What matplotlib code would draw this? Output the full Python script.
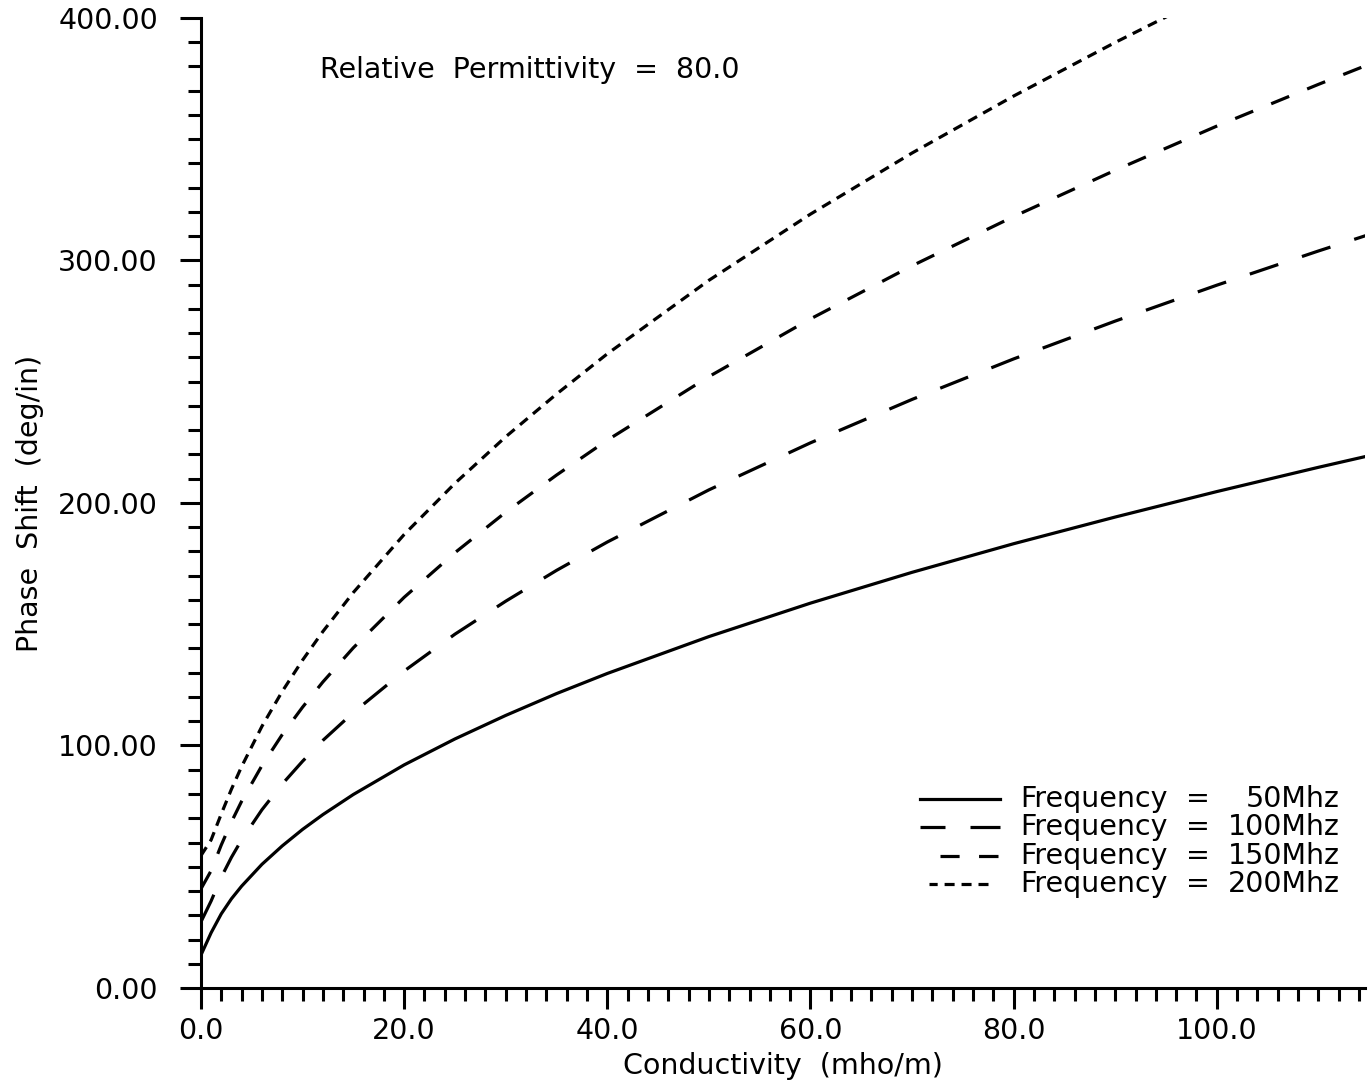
import numpy as np
import matplotlib
matplotlib.use("Agg")
import matplotlib.pyplot as plt
from matplotlib.lines import Line2D

# values (conductivity in mho/m, phase shift in deg/in)
conductivity = [0, 1, 2, 3, 4, 6, 8, 10, 12, 15, 20, 25, 30, 35, 40, 50, 60, 70, 80, 90, 100, 110, 115]
phase_50 = [13.6, 22.8, 30.6, 36.8, 42.0, 51.0, 58.6, 65.4, 71.5, 79.8, 92.0, 102.7, 112.4, 121.4,
            129.7, 144.9, 158.7, 171.4, 183.2, 194.2, 204.7, 214.7, 219.5]
phase_100 = [27.3, 35.9, 45.7, 53.9, 61.1, 73.5, 84.1, 93.5, 102.1, 113.6, 130.7, 145.9, 159.5, 172.2,
             183.9, 205.4, 224.8, 242.7, 259.4, 275.0, 289.8, 303.9, 310.7]
phase_150 = [40.9, 48.4, 59.0, 68.5, 77.0, 91.7, 104.5, 115.8, 126.2, 140.3, 161.1, 179.5, 196.2, 211.5,
             225.9, 252.1, 275.9, 297.8, 318.1, 337.2, 355.4, 372.6, 380.9]
conductivity_200 = [0, 1, 2, 3, 4, 6, 8, 10, 12, 15, 20, 25, 30, 35, 40, 50, 60, 70, 80, 90, 100]
phase_200 = [54.6, 61.1, 71.8, 82.0, 91.3, 107.9, 122.3, 135.2, 147.0, 163.1, 187.0, 208.1, 227.3, 244.9,
             261.5, 291.8, 319.1, 344.3, 367.8, 389.9, 410.9]

freq_labels = ["50Mhz", "100Mhz", "150Mhz", "200Mhz"]

plt.rcParams["font.family"] = "DejaVu Sans"
plt.rcParams["lines.scale_dashes"] = False

fig = plt.figure(figsize=(13.7, 10.88), dpi=100)
ax = fig.add_axes([0.1467, 0.0919, 0.9964 - 0.1467, 0.9835 - 0.0919])

lw = 2.3
fs = 20.5
styles = ["-", (0, (21.6, 18)), (0, (14, 14)), (0, (7.2, 5))]
series = [(conductivity, phase_50), (conductivity, phase_100),
          (conductivity, phase_150), (conductivity_200, phase_200)]

for (xs, ys), ls in zip(series, styles):
    ax.plot(xs, ys, color="black", linewidth=lw, linestyle=ls)

ax.set_xlim(0, 114.6)
ax.set_ylim(0, 400)

for side in ["top", "right"]:
    ax.spines[side].set_visible(False)
for side in ["left", "bottom"]:
    ax.spines[side].set_linewidth(2.2)

ax.set_xticks(np.arange(0, 101, 20))
ax.set_xticks(np.arange(0, 115, 2), minor=True)
ax.set_yticks(np.arange(0, 401, 100))
ax.set_yticks(np.arange(0, 401, 10), minor=True)
ax.xaxis.set_major_formatter(matplotlib.ticker.FormatStrFormatter("%.1f"))
ax.yaxis.set_major_formatter(matplotlib.ticker.FormatStrFormatter("%.2f"))

ax.tick_params(which="major", direction="out", length=15, width=2.2, labelsize=fs)
ax.tick_params(which="minor", direction="out", length=9.4, width=2.2)
ax.tick_params(axis="x", which="major", pad=6)
ax.tick_params(axis="y", which="major", pad=16)

ax.set_xlabel("Conductivity  (mho/m)", fontsize=fs, labelpad=5)
ax.set_ylabel("Phase  Shift  (deg/in)", fontsize=fs, labelpad=10)

ax.text(0.102, 0.946, "Relative  Permittivity  =  80.0", transform=ax.transAxes,
        fontsize=fs, ha="left", va="center")

# hand-built legend, dashes anchored at the right end of each sample
row_y = [0.1948, 0.166, 0.136, 0.107]
line_x = [(0.6864, 0.6177), (0.6864, 0.6177), (0.6847, 0.6349), (0.6761, 0.6254)]
for ls, label, y, (x1, x0) in zip(styles, freq_labels, row_y, line_x):
    ax.add_line(Line2D([x1, x0], [y, y], transform=ax.transAxes,
                       color="black", linewidth=lw, linestyle=ls, clip_on=False))
    ax.text(0.7036, y, "Frequency", transform=ax.transAxes, fontsize=fs, ha="left", va="center")
    ax.text(0.8565, y, "=", transform=ax.transAxes, fontsize=fs, ha="center", va="center")
    ax.text(0.9785, y, label, transform=ax.transAxes, fontsize=fs, ha="right", va="center")

fig.savefig("out.png", dpi=100, facecolor="white")
